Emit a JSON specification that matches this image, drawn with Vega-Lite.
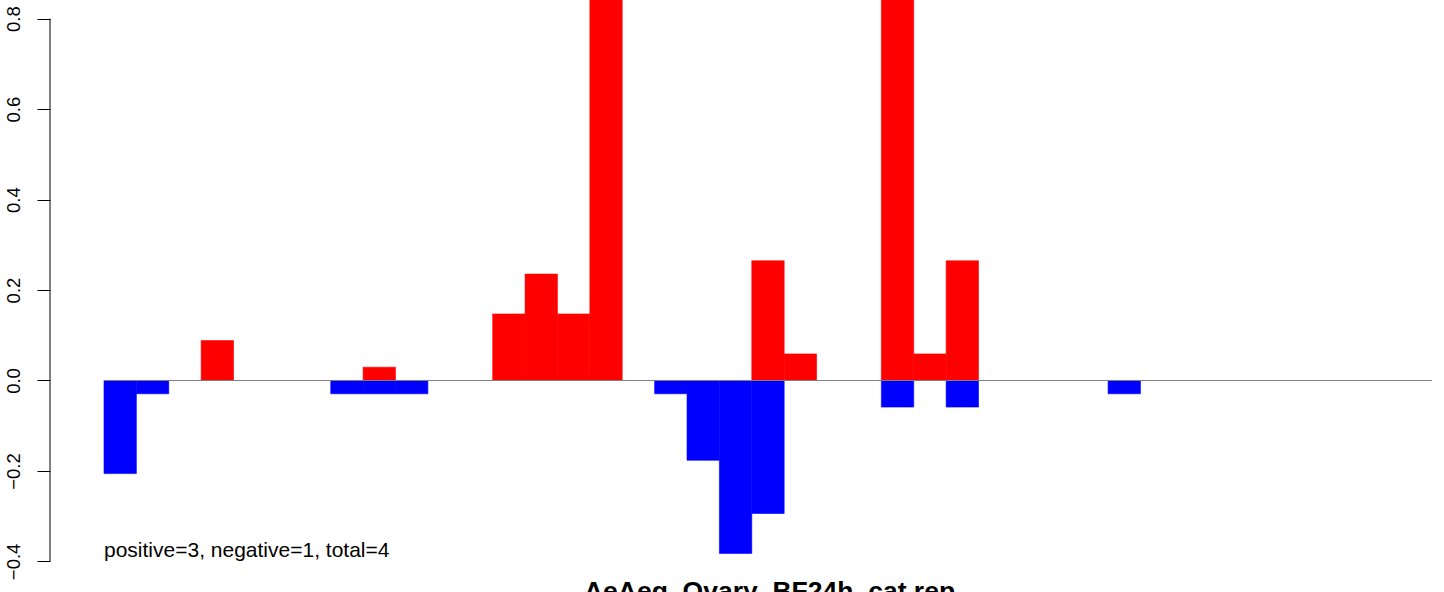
{
  "$schema": "https://vega.github.io/schema/vega-lite/v6.json",
  "width": 1394,
  "height": 570,
  "autosize": {"type": "none"},
  "padding": {"left": 50, "top": 0, "right": 0, "bottom": 22},
  "background": "white",
  "config": {"view": {"stroke": null}, "font": "Liberation Sans"},
  "datasets": {
    "bars": [
      {"start": 0, "end": 1, "value": -0.2059, "sign": "negative"},
      {"start": 1, "end": 2, "value": -0.0294, "sign": "negative"},
      {"start": 3, "end": 4, "value": 0.0882, "sign": "positive"},
      {"start": 7, "end": 8, "value": -0.0294, "sign": "negative"},
      {"start": 8, "end": 9, "value": 0.0294, "sign": "positive"},
      {"start": 8, "end": 9, "value": -0.0294, "sign": "negative"},
      {"start": 9, "end": 10, "value": -0.0294, "sign": "negative"},
      {"start": 12, "end": 13, "value": 0.1471, "sign": "positive"},
      {"start": 13, "end": 14, "value": 0.2353, "sign": "positive"},
      {"start": 14, "end": 15, "value": 0.1471, "sign": "positive"},
      {"start": 15, "end": 16, "value": 1.0, "sign": "positive"},
      {"start": 17, "end": 18, "value": -0.0294, "sign": "negative"},
      {"start": 18, "end": 19, "value": -0.1765, "sign": "negative"},
      {"start": 19, "end": 20, "value": -0.3824, "sign": "negative"},
      {"start": 20, "end": 21, "value": 0.2647, "sign": "positive"},
      {"start": 20, "end": 21, "value": -0.2941, "sign": "negative"},
      {"start": 21, "end": 22, "value": 0.0588, "sign": "positive"},
      {"start": 24, "end": 25, "value": 1.0, "sign": "positive"},
      {"start": 24, "end": 25, "value": -0.0588, "sign": "negative"},
      {"start": 25, "end": 26, "value": 0.0588, "sign": "positive"},
      {"start": 26, "end": 27, "value": 0.2647, "sign": "positive"},
      {"start": 26, "end": 27, "value": -0.0588, "sign": "negative"},
      {"start": 31, "end": 32, "value": -0.0294, "sign": "negative"}
    ],
    "note": [{"label": "positive=3, negative=1, total=4"}]
  },
  "layer": [
    {
      "data": {"name": "bars"},
      "mark": {"type": "bar", "clip": true, "cornerRadius": 0, "strokeWidth": 0.6},
      "encoding": {
        "x": {
          "field": "start",
          "type": "quantitative",
          "scale": {"domain": [-1.667, 41.371], "nice": false, "zero": false},
          "axis": {
            "title": "AeAeg_Ovary_BF24h_cat.rep",
            "labels": false,
            "ticks": false,
            "domain": false,
            "grid": false,
            "titleFont": "Liberation Sans",
            "titleFontSize": 26.5,
            "titleFontWeight": "bold",
            "titleColor": "black",
            "titleBaseline": "alphabetic",
            "titleAlign": "center",
            "titleX": 719,
            "titleY": 29
          }
        },
        "x2": {"field": "end"},
        "y": {
          "field": "value",
          "type": "quantitative",
          "scale": {"domain": [-0.419, 0.8413], "nice": false, "zero": false},
          "axis": {
            "title": null,
            "values": [-0.4, -0.2, 0, 0.2, 0.4, 0.6, 0.8],
            "format": ".1f",
            "domain": false,
            "grid": false,
            "ticks": true,
            "tickSize": 13,
            "tickWidth": 1,
            "tickColor": "black",
            "labelAngle": -90,
            "labelAlign": "center",
            "labelBaseline": "alphabetic",
            "labelPadding": 18,
            "labelFont": "Liberation Sans",
            "labelFontSize": 18.5,
            "labelColor": "black",
            "labelExpr": "replace(datum.label, '-', '\u2212')"
          }
        },
        "y2": {"datum": 0},
        "color": {
          "field": "sign",
          "type": "nominal",
          "scale": {"domain": ["positive", "negative"], "range": ["#FF0000", "#0000FF"]},
          "legend": null
        },
        "stroke": {
          "field": "sign",
          "type": "nominal",
          "scale": {"domain": ["positive", "negative"], "range": ["#FF0000", "#0000FF"]},
          "legend": null
        }
      }
    },
    {
      "data": {"name": "note"},
      "mark": {"type": "rule", "color": "#808080", "strokeWidth": 1},
      "encoding": {
        "x": {"datum": 0, "type": "quantitative"},
        "x2": {"datum": 41},
        "y": {"datum": 0, "type": "quantitative"}
      }
    },
    {
      "data": {"name": "note"},
      "mark": {"type": "rule", "color": "black", "strokeWidth": 1},
      "encoding": {
        "x": {"datum": -1.667, "type": "quantitative"},
        "y": {"datum": -0.4, "type": "quantitative"},
        "y2": {"datum": 0.8}
      }
    },
    {
      "data": {"name": "note"},
      "mark": {"type": "text", "align": "left", "baseline": "alphabetic", "font": "Liberation Sans", "fontSize": 21, "color": "black"},
      "encoding": {
        "x": {"datum": 0, "type": "quantitative"},
        "y": {"datum": -0.3902, "type": "quantitative"},
        "text": {"field": "label"}
      }
    }
  ]
}
